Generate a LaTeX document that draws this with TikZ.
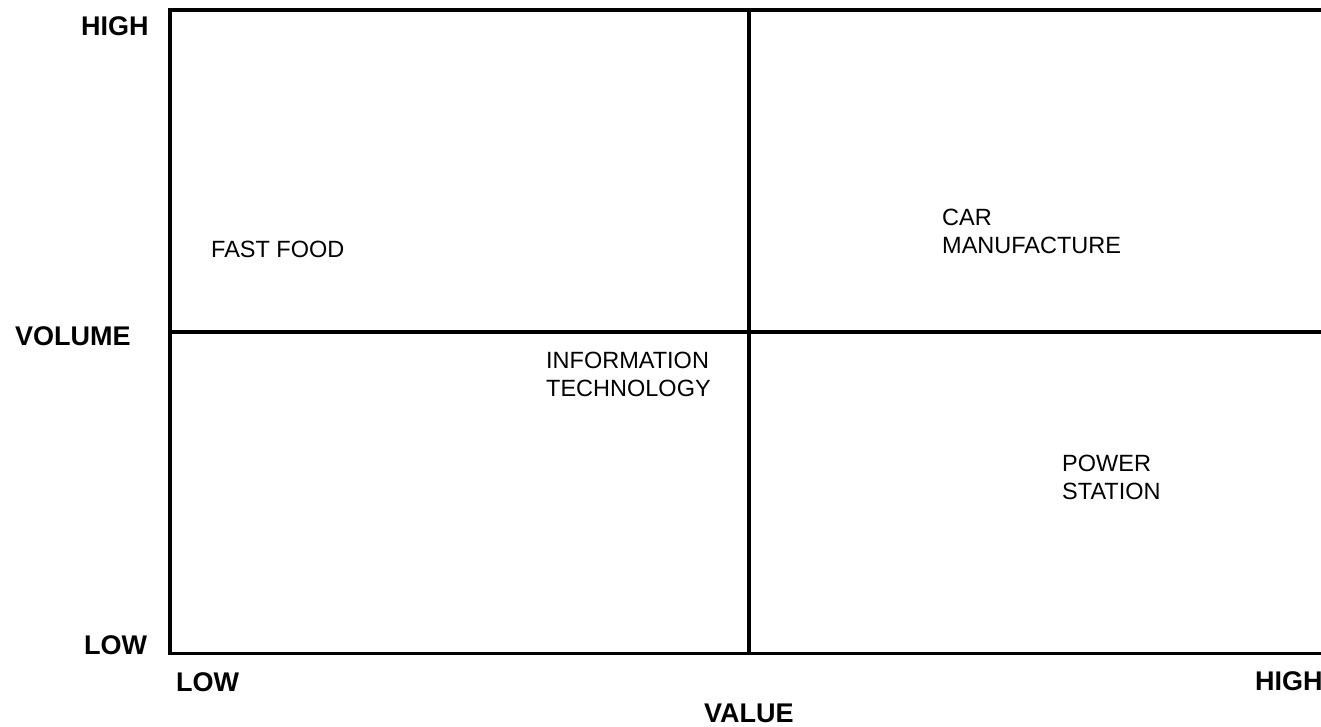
\documentclass[tikz,border=0pt]{standalone}
\usepackage{fontspec}
\setmainfont{Liberation Sans}
\begin{document}
\begin{tikzpicture}[x=1pt,y=-1pt,
  frame/.style={line width=3.6pt, line join=miter, line cap=butt},
  axislabel/.style={inner sep=0pt, anchor=base west, font=\fontsize{27}{31}\selectfont\bfseries},
  celllabel/.style={inner sep=0pt, anchor=base west, align=left, font=\fontsize{23.5}{28}\selectfont}]
\useasboundingbox[fill=white] (0,0) rectangle (1321,727);
% frame coordinates
\coordinate (tl) at (170,10);
\coordinate (tr) at (1321,10);
\coordinate (bl) at (170,653.5);
\coordinate (br) at (1321,653.5);
\coordinate (mt) at (749,10);
\coordinate (mb) at (749,653.5);
\coordinate (ml) at (170,332);
\coordinate (mr) at (1321,332);
\draw[frame] (tr) -- (tl) -- (bl) -- (br);
\draw[frame] (mt) -- (mb);
\draw[frame] (ml) -- (mr);
% axis labels
\node[axislabel] (yhigh) at (81,36) {HIGH};
\node[axislabel] (yvol) at (15,345) {VOLUME};
\node[axislabel] (ylow) at (84,654) {LOW};
\node[axislabel] (xlow) at (176,691) {LOW};
\node[axislabel] (xhigh) at (1255,690) {HIGH};
\node[axislabel] (xval) at (704,722) {VALUE};
% cell labels (base anchor = last line)
\node[celllabel] (ff) at (211,258) {FAST FOOD};
\node[celllabel] (car) at (942,253) {CAR\\MANUFACTURE};
\node[celllabel] (it) at (546,396) {INFORMATION\\TECHNOLOGY};
\node[celllabel] (ps) at (1062,499) {POWER\\STATION};
\end{tikzpicture}
\end{document}
